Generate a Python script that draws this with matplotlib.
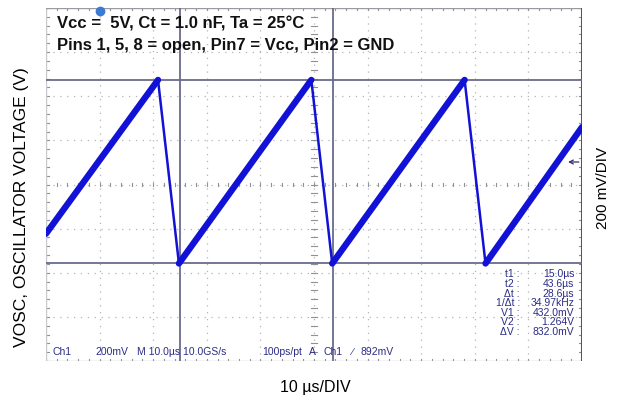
import matplotlib.pyplot as plt
import numpy as np

# sawtooth vertices (time in us, volts)
t_pts = [-10.0, 10.9, 14.8, 39.5, 43.4, 68.1, 72.0, 90.0]
v_pts = [0.567, 1.264, 0.432, 1.264, 0.432, 1.264, 0.432, 1.05]

# cursors
t_cursors = [15.0, 43.6]
v_cursors = [0.432, 1.264]
trig_level = 0.892

meas_labels = ['t1 :', 't2 :', '\u0394t :', '1/\u0394t :', 'V1 :', 'V2 :', '\u0394V :']
meas_values = ['15.0\u00b5s', '43.6\u00b5s', '28.6\u00b5s', '34.97kHz', '432.0mV', '1.264V', '832.0mV']

status_text = [(-8.7, 'Ch1'), (-0.8, '200mV'), (7.0, 'M 10.0\u00b5s 10.0GS/s'),
               (30.3, '100ps/pt'), (39.0, 'A'), (41.7, 'Ch1'), (47.0, '\u2215'), (48.6, '892mV')]

plt.rcParams['font.family'] = ['Liberation Sans', 'DejaVu Sans']

fig = plt.figure(figsize=(6.24, 4.10), dpi=100)
ax = fig.add_axes([46 / 624, 1 - 362 / 410, 536 / 624, 353 / 410])
x0, x1 = -10, 90
y0, y1 = -0.01, 1.59
ax.set_xlim(x0, x1)
ax.set_ylim(y0, y1)
ax.set_xticks([])
ax.set_yticks([])
for s in ax.spines.values():
    s.set_visible(False)

grid_c = '#b4b4b8'
# dotted division grid
for k in range(1, 10):
    ax.axvline(x0 + 10 * k, color=grid_c, lw=0.9, ls=(0, (1, 4.5)), zorder=1)
for k in range(1, 8):
    ax.axhline(y0 + 0.2 * k, color=grid_c, lw=0.9, ls=(0, (1, 4.5)), zorder=1)

# minor ticks on center cross and edges
xc = (x0 + x1) / 2
yc = (y0 + y1) / 2
dx = 0.5
dy = 0.008
for t in np.arange(x0, x1 + 0.01, 2):
    ax.plot([t, t], [yc - dy, yc + dy], color='#909098', lw=0.8, zorder=1)
    ax.plot([t, t], [y0, y0 + dy], color='#909098', lw=0.8, zorder=1)
    ax.plot([t, t], [y1 - dy, y1], color='#909098', lw=0.8, zorder=1)
for v in np.arange(y0, y1 + 0.001, 0.04):
    ax.plot([xc - dx, xc + dx], [v, v], color='#909098', lw=0.8, zorder=1)
    ax.plot([x0, x0 + dx], [v, v], color='#909098', lw=0.8, zorder=1)
    ax.plot([x1 - dx, x1], [v, v], color='#909098', lw=0.8, zorder=1)

# frame
ax.plot([x0, x0], [y0, y1], color='#c8c8cc', lw=1.0, zorder=2)
ax.plot([x0, x1], [y1, y1], color='#9a9aa0', lw=1.0, zorder=2)
ax.plot([x0, x1], [y0, y0], color='#c8c8cc', lw=1.0, zorder=2)
ax.plot([x1, x1], [y0, y1], color='#55555c', lw=2.2, zorder=2)

# cursors
for t in t_cursors:
    ax.axvline(t, color='#6a6a8c', lw=1.3, zorder=3)
for v in v_cursors:
    ax.axhline(v, color='#6a6a8c', lw=1.3, zorder=3)

# trace: thick noisy ramps, thin fast falls
trace_c = '#1212d6'
for i in range(len(t_pts) - 1):
    rising = v_pts[i + 1] > v_pts[i]
    ax.plot(t_pts[i:i + 2], v_pts[i:i + 2], color=trace_c,
            lw=4.6 if rising else 1.8, solid_capstyle='round', zorder=4)

# trigger markers
ax.plot([0], [y1 - 0.012], marker='o', ms=6, color='#3a7bd5', clip_on=False, zorder=5)
ax.annotate('', xy=(x1 - 2.6, trig_level), xytext=(x1 - 0.6, trig_level),
            arrowprops=dict(arrowstyle='->', color='#30306a', lw=0.9,
                            shrinkA=0, shrinkB=0, mutation_scale=7), zorder=5)

# header text
ax.text(-8, 1.52, 'Vcc =  5V, Ct = 1.0 nF, Ta = 25\u00b0C', fontsize=12,
        fontweight='bold', color='#111111', va='center', ha='left')
ax.text(-8, 1.425, 'Pins 1, 5, 8 = open, Pin7 = Vcc, Pin2 = GND', fontsize=12,
        fontweight='bold', color='#111111', va='center', ha='left')

# measurement box
meas_c = '#2c2c86'
for i, (lab, val) in enumerate(zip(meas_labels, meas_values)):
    yy = 0.387 - i * 0.0435
    ax.text(78.4, yy, lab, fontsize=7.5, color=meas_c, ha='right', va='center',
            family=['Liberation Sans Narrow', 'Liberation Sans'])
    ax.text(88.6, yy, val, fontsize=7.5, color=meas_c, ha='right', va='center',
            family=['Liberation Sans Narrow', 'Liberation Sans'])

# status line
for tt, s in status_text:
    ax.text(tt, 0.035, s, fontsize=7.5, color=meas_c, ha='left', va='center')

# outside labels
fig.text(22 / 624, 1 - 207 / 410, 'VOSC, OSCILLATOR VOLTAGE (V)', rotation=90,
         fontsize=12.5, ha='center', va='center', family=['Liberation Sans Narrow', 'Liberation Sans'])
fig.text(603 / 624, 1 - 188 / 410, '200 mV/DIV', rotation=90,
         fontsize=11, ha='center', va='center', family=['Liberation Sans Narrow', 'Liberation Sans'])
fig.text(315 / 624, 1 - 388 / 410, '10 \u00b5s/DIV', fontsize=11.5,
         ha='center', va='center', family=['Liberation Sans Narrow', 'Liberation Sans'])

fig.savefig('out.png', dpi=100, facecolor='white')
